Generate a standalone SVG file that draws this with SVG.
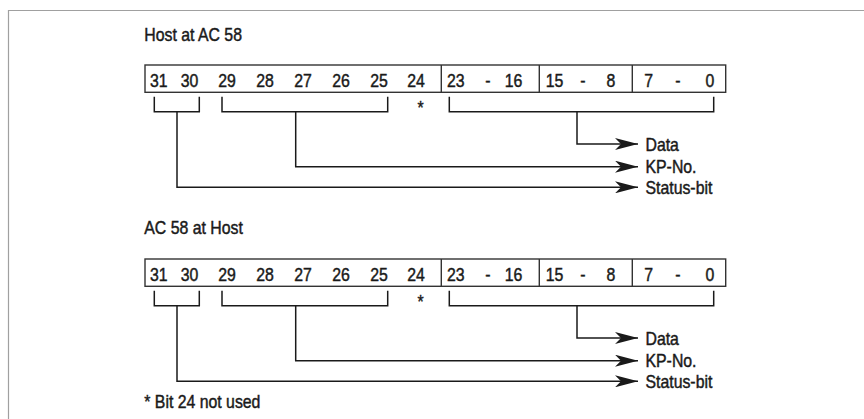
<svg xmlns="http://www.w3.org/2000/svg" width="864" height="419" viewBox="0 0 864 419">
<style>
  .t { font-family: "Liberation Sans", Arial, sans-serif; font-size: 18px; fill: #1a1a1a; stroke: #1a1a1a; stroke-width: 0.45px; }
  .m { text-anchor: middle; }
  .box { fill: #fff; stroke: #333; stroke-width: 1.4; }
  .div { stroke: #333; stroke-width: 1.4; }
  .c { fill: none; stroke: #1a1a1a; stroke-width: 1.5; }
  .frame { fill: none; stroke: #a0a0a0; stroke-width: 1.2; }
</style>
<defs>
  <marker id="ah" markerUnits="userSpaceOnUse" markerWidth="24" markerHeight="12" refX="23" refY="6" orient="auto">
    <path d="M0,0 L23,6 L0,12 L6,6 Z" fill="#1a1a1a"/>
  </marker>
  <g id="register">
    <rect class="box" x="145" y="65" width="580.7" height="27.3"/>
    <line class="div" x1="441.3" y1="65" x2="441.3" y2="92.3"/>
    <line class="div" x1="539.3" y1="65" x2="539.3" y2="92.3"/>
    <line class="div" x1="632.3" y1="65" x2="632.3" y2="92.3"/>
    <g class="t m">
      <text transform="translate(158.7,87) scale(0.88 1)">31</text>
      <text transform="translate(189.5,87) scale(0.88 1)">30</text>
      <text transform="translate(227,87) scale(0.88 1)">29</text>
      <text transform="translate(265,87) scale(0.88 1)">28</text>
      <text transform="translate(303,87) scale(0.88 1)">27</text>
      <text transform="translate(341,87) scale(0.88 1)">26</text>
      <text transform="translate(379,87) scale(0.88 1)">25</text>
      <text transform="translate(416,87) scale(0.88 1)">24</text>
      <text transform="translate(455.7,87) scale(0.88 1)">23</text>
      <text transform="translate(488,87) scale(0.88 1)">-</text>
      <text transform="translate(513.5,87) scale(0.88 1)">16</text>
      <text transform="translate(554.5,87) scale(0.88 1)">15</text>
      <text transform="translate(583,87) scale(0.88 1)">-</text>
      <text transform="translate(611,87) scale(0.88 1)">8</text>
      <text transform="translate(648.7,87) scale(0.88 1)">7</text>
      <text transform="translate(677.8,87) scale(0.88 1)">-</text>
      <text transform="translate(710,87) scale(0.88 1)">0</text>
      <text transform="translate(420.7,113.6) scale(0.88 1)">*</text>
    </g>
  </g>
  <g id="conn">
    <path class="c" d="M154.3,96.7 V111.7 H199.3 V96.7"/>
    <path class="c" d="M222,96.7 V111.7 H387.7 V96.7"/>
    <path class="c" d="M449.3,96.7 V111.7 H713.7 V96.7"/>
    <path class="c" d="M577,111.7 V144 H638" marker-end="url(#ah)"/>
    <path class="c" d="M295.7,111.7 V166.7 H638" marker-end="url(#ah)"/>
    <path class="c" d="M177,111.7 V187.3 H638" marker-end="url(#ah)"/>
  </g>
  <g id="outlabels" class="t">
    <text transform="translate(645.5,150.5) scale(0.88 1)">Data</text>
    <text transform="translate(645.5,173) scale(0.88 1)">KP-No.</text>
    <text transform="translate(645.5,193.8) scale(0.88 1)">Status-bit</text>
  </g>
</defs>

<path id="frame" class="frame" d="M8.5,419 V10.5 H864"/>

<g id="section-host-to-ac58">
  <text class="t" transform="translate(144.3,41) scale(0.88 1)">Host at AC 58</text>
  <g id="register-1"><use href="#register"/></g>
  <g id="labels-1"><use href="#outlabels"/></g>
</g>
<g id="connectors">
  <use href="#conn"/>
  <use href="#conn" transform="translate(0,194)"/>
</g>
<g id="section-ac58-to-host">
  <text class="t" transform="translate(144.3,234) scale(0.88 1)">AC 58 at Host</text>
  <g id="register-2"><use href="#register" transform="translate(0,194)"/></g>
  <g id="labels-2"><use href="#outlabels" transform="translate(0,194)"/></g>
</g>
<g id="footnote">
  <text class="t" transform="translate(144.3,408.3) scale(0.88 1)">* Bit 24 not used</text>
</g>
</svg>
